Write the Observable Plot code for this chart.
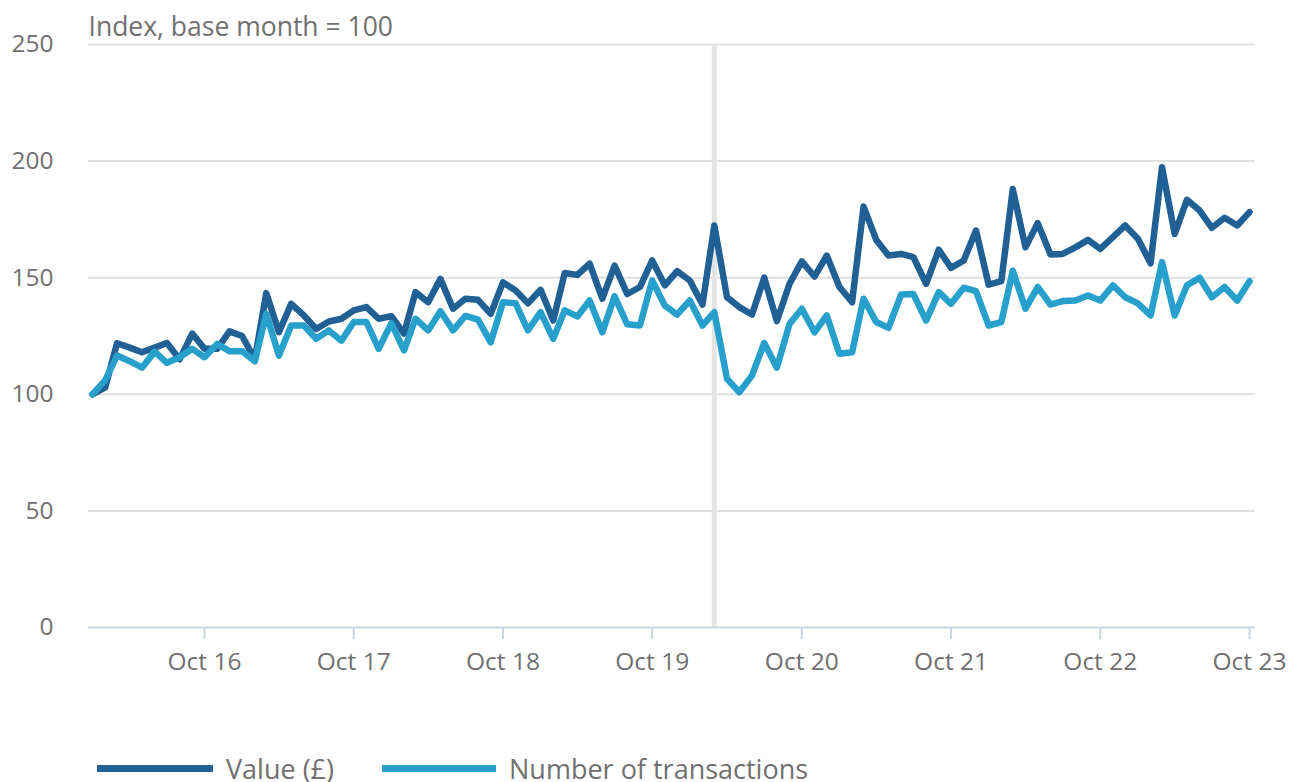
<!DOCTYPE html>
<html>
<head>
<meta charset="utf-8">
<script src="https://cdn.jsdelivr.net/npm/d3@7"></script>
<script src="https://cdn.jsdelivr.net/npm/@observablehq/plot@0.6"></script>
<style>
  html, body { margin: 0; padding: 0; background: #fff; }
  body { width: 1296px; height: 782px; overflow: hidden; position: relative; font-family: "Open Sans", sans-serif; }
  #legend { position: absolute; left: 97px; top: 750px; display: flex; align-items: center; font-size: 27px; color: #707071; white-space: nowrap; }
  .sw { display: inline-block; height: 7px; margin-right: 13px; }
  .item { display: flex; align-items: center; }
</style>
</head>
<body>
<div id="chart"></div>
<div id="legend"></div>
<script>
// First month of the series (January 2016), monthly to October 2023
const startYear = 2016;
const startMonth = 0;

const seriesNames = ["Value (£)", "Number of transactions"];
const seriesColors = ["#206095", "#27a0cc"];

const valueIndex = [
  100, 103, 121.9, 120, 118, 120, 122, 115, 126, 119.5,
  119.5, 127, 125, 115, 143.4, 126.6, 138.8, 133.8, 128, 131.2,
  132.4, 136, 137.4, 132.4, 133.5, 126, 143.8, 139.5, 149.5, 136.7,
  141, 140.5, 134.5, 148, 144.5, 139, 144.8, 131.6, 152, 151.2,
  156, 141, 155.2, 143, 146, 157.4, 146.7, 152.8, 148.8, 138.5,
  172.4, 141.6, 137.4, 134.2, 150, 131.4, 147.4, 157, 150.5, 159.5,
  146, 139.5, 180.5, 166.2, 159.5, 160.2, 158.8, 147.4, 162, 154.2,
  157.4, 170.2, 147, 148.5, 188, 163, 173.4, 160, 160.2, 163,
  166.2, 162.4, 167.4, 172.4, 166.7, 156.2, 197.4, 168.8, 183.4, 178.8,
  171.4, 175.7, 172.4, 178.1
];

const transactionsIndex = [
  100, 106, 116.6, 114.2, 111.4, 118.3, 113.5, 115.9, 119.5, 115.9,
  121.6, 118.5, 118.5, 114.2, 134.5, 116.6, 129.5, 129.5, 123.8, 127.4,
  123, 131, 131, 119.5, 130.5, 118.8, 132.4, 127.4, 135.6, 127.4,
  133.6, 132, 122.3, 139.5, 139, 127.4, 135.2, 123.8, 136, 133.4,
  140.2, 126.6, 142, 130, 129.5, 148.8, 138, 134.2, 140.2, 129.5,
  135.2, 106.6, 100.9, 108, 122, 111.4, 130.2, 136.7, 126.6, 133.8,
  117.4, 118, 141, 131, 128.5, 142.8, 143, 131.6, 143.8, 138.8,
  145.7, 144.2, 129.5, 131, 153, 136.7, 146, 138.5, 140, 140.2,
  142.4, 140.2, 146.7, 141.6, 139, 133.8, 156.7, 133.8, 146.7, 150,
  141.6, 146, 140.2, 148.5
];

const xTickLabels = ["Oct 16", "Oct 17", "Oct 18", "Oct 19", "Oct 20", "Oct 21", "Oct 22", "Oct 23"];
const yTicks = [0, 50, 100, 150, 200, 250];
const markerMonth = "2020-03"; // vertical reference line
const yTitle = "Index, base month = 100";

// Build tidy data
const monthDate = (i) => new Date(Date.UTC(startYear, startMonth + i, 1));
const rows = [];
valueIndex.forEach((v, i) => rows.push({date: monthDate(i), value: v, series: seriesNames[0]}));
transactionsIndex.forEach((v, i) => rows.push({date: monthDate(i), value: v, series: seriesNames[1]}));

const tickDates = xTickLabels.map(s => new Date(Date.UTC(2000 + +s.slice(4), 9, 1)));
const labelFor = new Map(tickDates.map((d, i) => [+d, xTickLabels[i]]));
const [my, mm] = markerMonth.split("-").map(Number);
const markerDate = new Date(Date.UTC(my, mm - 1, 1));

const textColor = "#707071";

const chart = Plot.plot({
  width: 1296,
  height: 740,
  marginLeft: 88,
  marginRight: 41,
  marginTop: 44,
  marginBottom: 113,
  style: {fontFamily: "'Open Sans', sans-serif", fontSize: "24px", color: textColor, background: "#fff"},
  x: {type: "utc", domain: [monthDate(0), monthDate(valueIndex.length - 1)], insetLeft: 4, insetRight: 6},
  y: {domain: [0, 250]},
  color: {domain: seriesNames, range: seriesColors},
  marks: [
    Plot.gridY(yTicks.filter(d => d > 0), {stroke: "#e0e0e0", strokeOpacity: 1, strokeWidth: 2}),
    Plot.ruleX([markerDate], {y1: 0, y2: 250, stroke: "#e4e4e4", strokeWidth: 5}),
    Plot.ruleY([0], {stroke: "#ccd5e6", strokeWidth: 2}),
    Plot.axisY({ticks: yTicks, tickSize: 0, tickPadding: 35, fill: textColor, fontSize: 24.5, label: null}),
    Plot.axisX({ticks: tickDates, tickFormat: d => labelFor.get(+d), tickSize: 12, tickPadding: 13, stroke: "#ccd5e6", strokeWidth: 2, fill: textColor, fontSize: 24.5, label: null}),
    Plot.line(rows, {x: "date", y: "value", z: "series", stroke: "series", strokeWidth: 6.5, strokeLinejoin: "round", strokeLinecap: "round"}),
    Plot.text([yTitle], {frameAnchor: "top-left", textAnchor: "start", lineAnchor: "bottom", dy: -9, fontSize: 26.5, fill: textColor})
  ]
});
document.getElementById("chart").appendChild(chart);

// Legend
const legend = document.getElementById("legend");
const swatchWidths = [116, 114];
const gaps = [48, 0];
seriesNames.forEach((name, i) => {
  const item = document.createElement("span");
  item.className = "item";
  item.style.marginRight = gaps[i] + "px";
  const sw = document.createElement("span");
  sw.className = "sw";
  sw.style.width = swatchWidths[i] + "px";
  sw.style.background = seriesColors[i];
  item.appendChild(sw);
  item.appendChild(document.createTextNode(name));
  legend.appendChild(item);
});
</script>
</body>
</html>
